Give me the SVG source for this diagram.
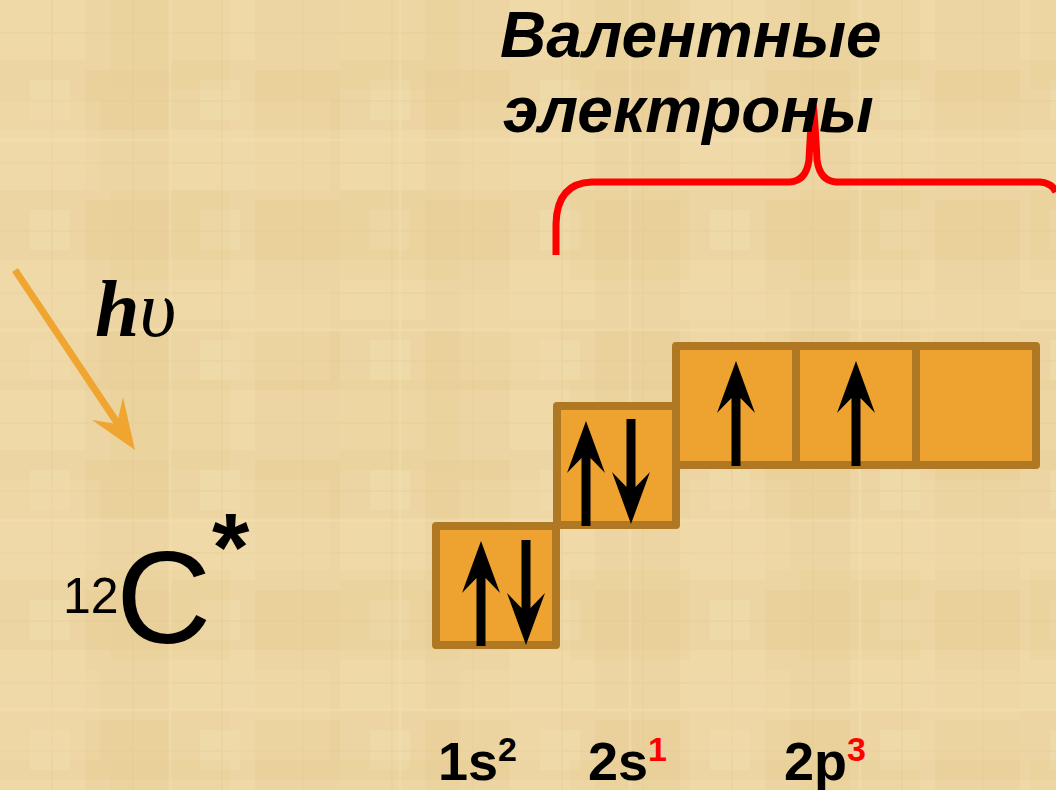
<svg xmlns="http://www.w3.org/2000/svg" width="1056" height="790" viewBox="0 0 1056 790">
<style>
.box{fill:#EEA330;stroke:#B07822;stroke-width:8;stroke-linejoin:round}
.sep{stroke:#B07822;stroke-width:8}
.spin{fill:#000}
.title{font-family:"Liberation Sans",Arial,sans-serif;font-weight:bold;font-style:italic;font-size:64px;fill:#000}
.lbl{font-family:"Liberation Sans",Arial,sans-serif;font-weight:bold;font-size:54px;fill:#000}
.sup{font-family:"Liberation Sans",Arial,sans-serif;font-weight:bold;font-size:34px}
</style>
<defs>
<path id="spin" d="M0,0 L19,52 L4.5,37 L4.5,105 L-4.5,105 L-4.5,37 L-19,52 Z"/>
<pattern id="texA" width="170" height="130" patternUnits="userSpaceOnUse">
<rect x="0" y="0" width="85" height="60" fill="#F3E0B2" opacity="0.35"/>
<rect x="85" y="70" width="85" height="60" fill="#E6C98F" opacity="0.3"/>
<rect x="30" y="80" width="40" height="40" fill="#F4E2B8" opacity="0.3"/>
<path d="M0,33 H170 M0,101 H170 M52,0 V130 M133,0 V130" stroke="#E3C68C" stroke-width="2" opacity="0.25"/>
</pattern>
<pattern id="texB" width="230" height="190" patternUnits="userSpaceOnUse">
<rect x="110" y="0" width="120" height="90" fill="#E8CC93" opacity="0.25"/>
<rect x="0" y="100" width="100" height="90" fill="#F2DDAE" opacity="0.3"/>
<path d="M0,140 H230 M170,0 V190" stroke="#F4E3BA" stroke-width="3" opacity="0.3"/>
</pattern>
</defs>
<rect width="1056" height="790" fill="#ECD5A2"/>
<rect width="1056" height="790" fill="url(#texA)"/>
<rect width="1056" height="790" fill="url(#texB)"/>

<g id="connectors">
<path id="bracket" d="M556,255 L556,224 Q557,183 592,182 L790,182 Q806,181 809,160 Q811,120 813,104 Q815,120 817,160 Q820,181 836,182 L1040,182 Q1052,183 1056,192" fill="none" stroke="#FF0000" stroke-width="7"/>
<g id="photon-arrow">
<line x1="15" y1="270" x2="124" y2="433" stroke="#EFA530" stroke-width="7"/>
<path d="M135,450 L92,420 L117,424 L123,397 Z" fill="#EFA530"/>
</g>
</g>

<g id="title">
<text class="title" x="500" y="57">Валентные</text>
<text class="title" x="503" y="132">электроны</text>
</g>

<g id="hv">
<text x="95" y="336" font-family="'Liberation Serif','Times New Roman',serif" font-size="80"><tspan font-weight="bold" font-style="italic">h</tspan><tspan font-style="italic">υ</tspan></text>
</g>

<g id="atom">
<text x="63" y="613" font-family="'Liberation Sans',Arial,sans-serif" font-size="50">12</text>
<text x="116" y="643" font-family="'Liberation Sans',Arial,sans-serif" font-size="132">C</text>
<text x="212" y="580" font-family="'Liberation Sans',Arial,sans-serif" font-weight="bold" font-size="96">*</text>
</g>

<g id="orbital-1s">
<rect class="box" x="436" y="526" width="120" height="119"/>
<use href="#spin" class="spin" transform="translate(481,541)"/>
<use href="#spin" class="spin" transform="translate(526,645) rotate(180)"/>
</g>

<g id="orbital-2s">
<rect class="box" x="557" y="406" width="119" height="119"/>
<use href="#spin" class="spin" transform="translate(586,421)"/>
<use href="#spin" class="spin" transform="translate(631,524) rotate(180)"/>
</g>

<g id="orbital-2p">
<rect class="box" x="676" y="346" width="360" height="119"/>
<line class="sep" x1="796" y1="346" x2="796" y2="465"/>
<line class="sep" x1="916" y1="346" x2="916" y2="465"/>
<use href="#spin" class="spin" transform="translate(736,361)"/>
<use href="#spin" class="spin" transform="translate(856,361)"/>
</g>

<g id="labels">
<text class="lbl" x="438" y="780">1s<tspan class="sup" dy="-19" fill="#000">2</tspan></text>
<text class="lbl" x="588" y="780">2s<tspan class="sup" dy="-19" fill="#FF0000">1</tspan></text>
<text class="lbl" x="784" y="780">2p<tspan class="sup" dy="-19" fill="#FF0000">3</tspan></text>
</g>
</svg>
